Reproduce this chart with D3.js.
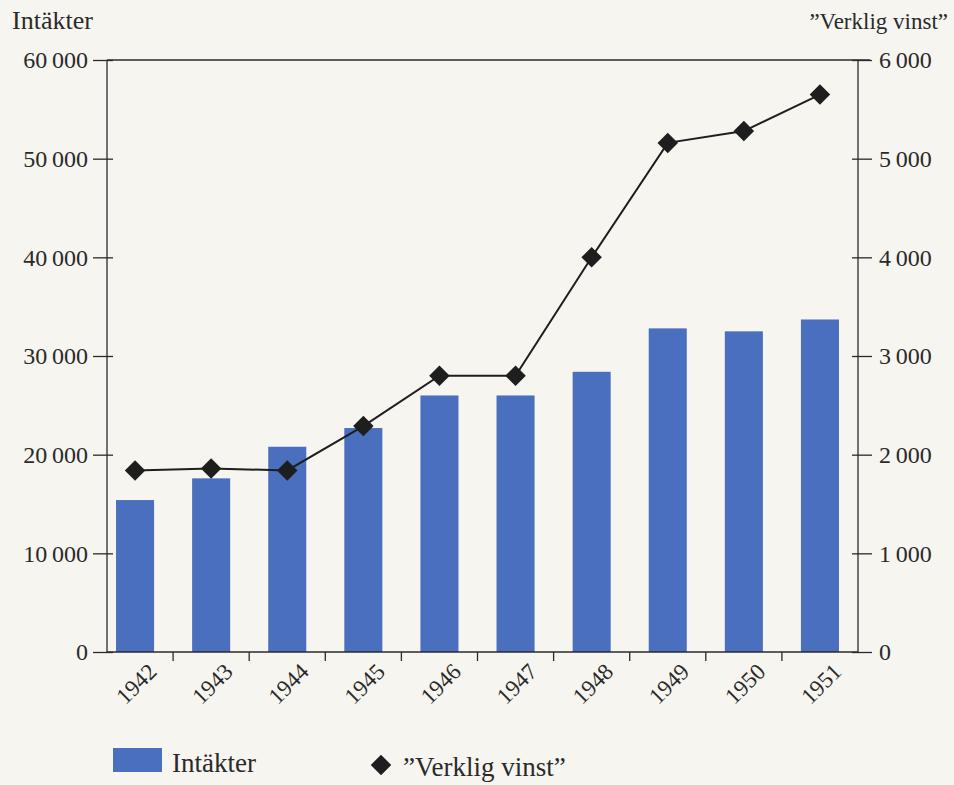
<!DOCTYPE html>
<html>
<head>
<meta charset="utf-8">
<script src="https://cdn.jsdelivr.net/npm/d3@7"></script>
<style>
  body { margin: 0; background: #f6f5ef; }
  svg text { font-family: "Liberation Serif", "DejaVu Serif", serif; fill: #2a2a2a; }
</style>
</head>
<body>
<svg id="chart" width="954" height="785" font-family="Liberation Serif, serif"></svg>
<script>
// Data
const years = ['1942', '1943', '1944', '1945', '1946', '1947', '1948', '1949', '1950', '1951'];
const revenue = [15400, 17600, 20800, 22700, 26000, 26000, 28400, 32800, 32500, 33700];
const profit = [1840, 1860, 1840, 2290, 2800, 2800, 4000, 5160, 5280, 5650];
const leftTicks = [0, 10000, 20000, 30000, 40000, 50000, 60000];
const rightTicks = [0, 1000, 2000, 3000, 4000, 5000, 6000];
const leftTitle = 'Intäkter';
const rightTitle = '”Verklig vinst”';

(function(d3) {
  const svg = d3.select('#chart');
  const ink = '#2a2a2a';
  const barColor = '#4a6fbe';
  const serif = '"Liberation Serif", "DejaVu Serif", serif';

  // plot frame
  const pLeft = 107, pRight = 858, pTop = 60, pBottom = 652;

  const x = d3.scaleBand()
    .domain(years)
    .range([97, 858])
    .paddingInner(0.5)
    .paddingOuter(0.25);
  const yL = d3.scaleLinear().domain([0, 60000]).range([pBottom, pTop]);
  const yR = d3.scaleLinear().domain([0, 6000]).range([pBottom, pTop]);

  const fmt = d3.formatLocale({ decimal: ',', thousands: '\u2009', grouping: [3], currency: ['', ''] }).format(',');

  // bars
  svg.append('g')
    .selectAll('rect')
    .data(years)
    .join('rect')
    .attr('x', d => x(d))
    .attr('y', (d, i) => yL(revenue[i]))
    .attr('width', x.bandwidth())
    .attr('height', (d, i) => yL(0) - yL(revenue[i]))
    .attr('fill', barColor);

  // top frame line
  svg.append('line').attr('x1', pLeft).attr('x2', pRight + 12).attr('y1', pTop).attr('y2', pTop)
    .attr('stroke', ink).attr('stroke-width', 1.3);

  // left axis
  const gL = svg.append('g').attr('transform', `translate(${pLeft},0)`)
    .call(d3.axisLeft(yL).tickValues(leftTicks).tickFormat(fmt).tickSize(14).tickPadding(5));
  gL.selectAll('.tick line').attr('x2', -14).attr('x1', 6);
  // right axis
  const gR = svg.append('g').attr('transform', `translate(${pRight},0)`)
    .call(d3.axisRight(yR).tickValues(rightTicks).tickFormat(fmt).tickSize(14).tickPadding(7));
  gR.selectAll('.tick line').attr('x1', -6).attr('x2', 14);

  [gL, gR].forEach(g => {
    g.attr('font-family', serif);
    g.select('.domain').attr('stroke', ink).attr('stroke-width', 1.3).attr('d', `M0,${pTop}V${pBottom}`);
    g.selectAll('.tick line').attr('stroke', ink).attr('stroke-width', 1.3);
    g.selectAll('.tick text').attr('font-size', 24).attr('fill', ink);
  });

  // x axis
  const gX = svg.append('g').attr('transform', `translate(0,${pBottom})`);
  gX.append('line').attr('x1', pLeft).attr('x2', pRight).attr('stroke', ink).attr('stroke-width', 1.3);
  const edge = d => x(d) + x.bandwidth() + (x.step() - x.bandwidth()) / 2;
  gX.selectAll('line.tk')
    .data(years.slice(0, -1))
    .join('line')
    .attr('class', 'tk')
    .attr('x1', edge)
    .attr('x2', edge)
    .attr('y1', 0).attr('y2', 9)
    .attr('stroke', ink).attr('stroke-width', 1.3);
  gX.selectAll('text')
    .data(years)
    .join('text')
    .attr('text-anchor', 'end')
    .attr('font-size', 23)
    .attr('transform', d => `translate(${x(d) + x.bandwidth() / 2 + 23},${21}) rotate(-45)`)
    .text(d => d);

  // profit line
  const cx = d => x(d) + x.bandwidth() / 2;
  svg.append('path')
    .datum(years)
    .attr('fill', 'none')
    .attr('stroke', '#1e1e1e')
    .attr('stroke-width', 2)
    .attr('d', d3.line().x(cx).y((d, i) => yR(profit[i])));

  const diamond = d3.symbol().type(d3.symbolSquare).size(210);
  svg.append('g')
    .selectAll('path')
    .data(years)
    .join('path')
    .attr('d', diamond)
    .attr('fill', '#1e1e1e')
    .attr('transform', (d, i) => `translate(${cx(d)},${yR(profit[i])}) rotate(45)`);

  // axis titles
  svg.append('text').attr('x', 12).attr('y', 29).attr('font-size', 26).text(leftTitle);
  svg.append('text').attr('x', 948).attr('y', 29).attr('font-size', 23).attr('text-anchor', 'end').text(rightTitle);

  // legend
  const lg = svg.append('g');
  lg.append('rect').attr('x', 113).attr('y', 748).attr('width', 49).attr('height', 24).attr('fill', barColor);
  lg.append('text').attr('x', 172).attr('y', 772).attr('font-size', 27).text(leftTitle);
  lg.append('path').attr('d', diamond).attr('fill', '#1e1e1e')
    .attr('transform', 'translate(381,765) rotate(45)');
  lg.append('text').attr('x', 403).attr('y', 776).attr('font-size', 27).text(rightTitle);
})(d3);
</script>
</body>
</html>
